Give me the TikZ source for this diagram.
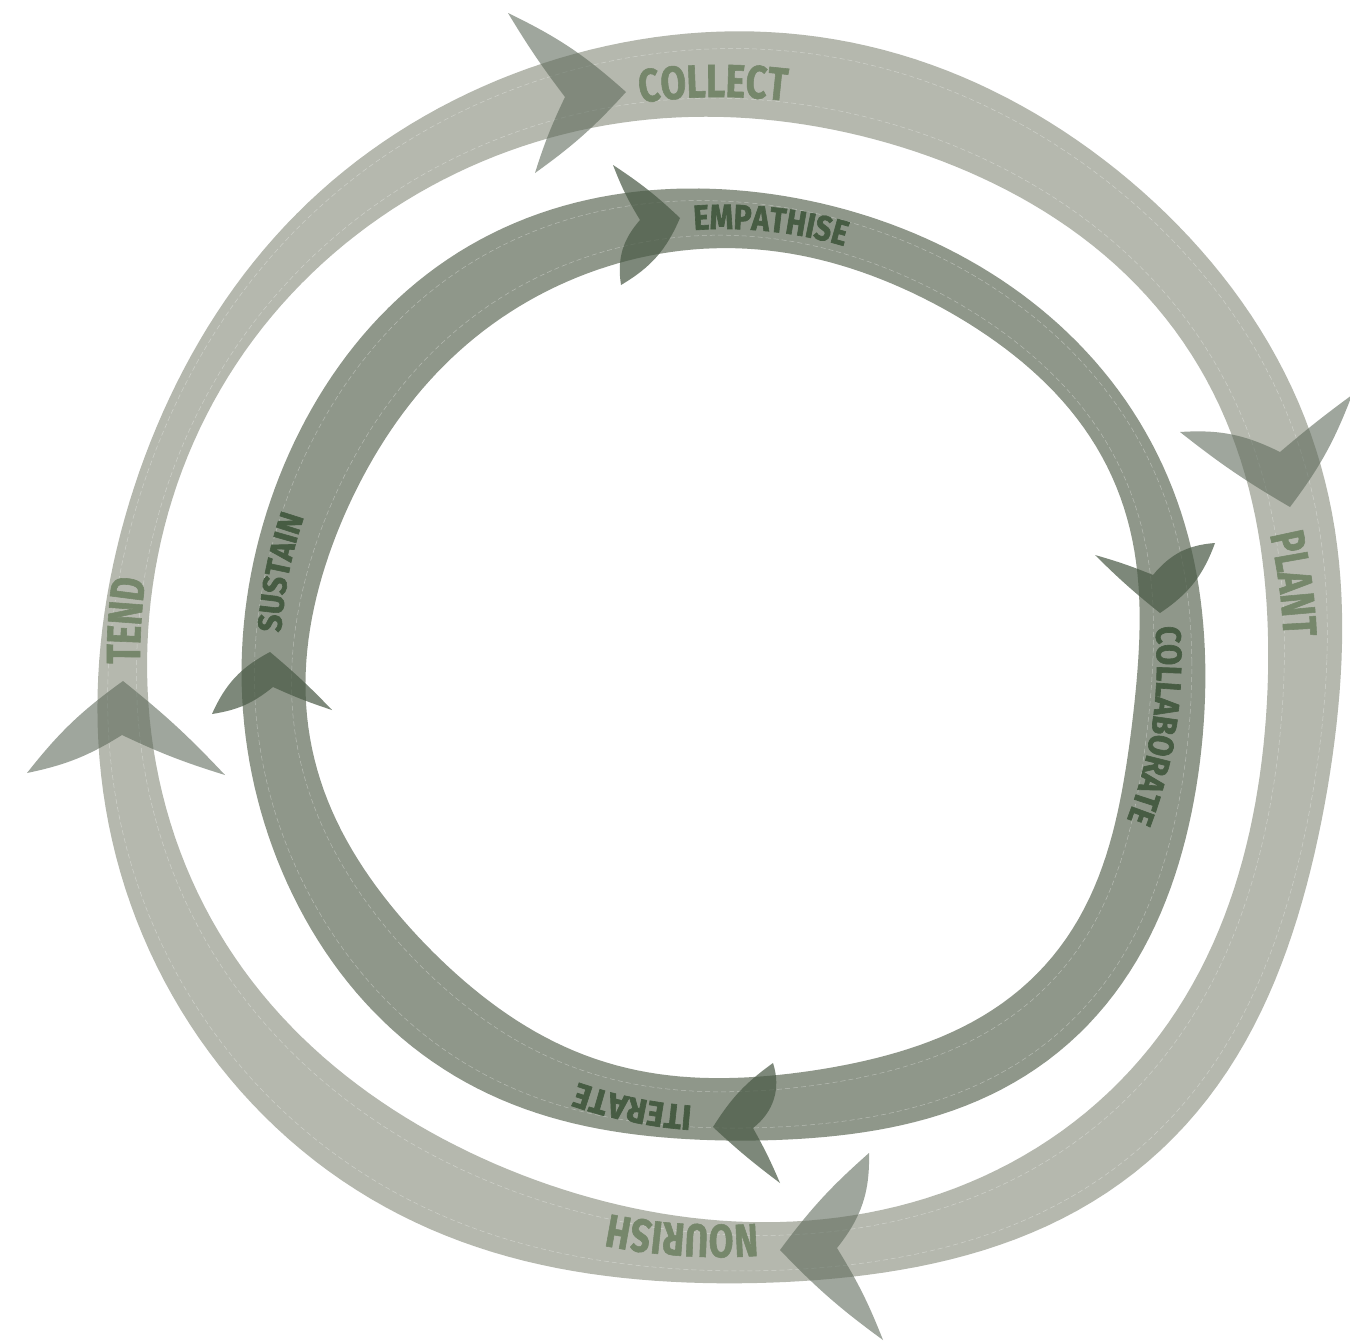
\documentclass[tikz,border=0pt]{standalone}
\usepackage{fontspec}
\setmainfont{Fira Sans}
\usetikzlibrary{decorations.text}
\definecolor{ringO}{HTML}{B5B8AE}
\definecolor{ringI}{HTML}{8F978A}
\definecolor{arrO}{HTML}{5F6B5C}
\definecolor{arrI}{HTML}{4B5B47}
\definecolor{txtO}{HTML}{76876B}
\definecolor{txtI}{HTML}{475C43}
\newcommand\ringdataO{0/620/545, 15/624/554, 30/640/572, 45/658/578, 60/655/580, 75/632/574, 90/624/561, 105/632/550, 120/636/555, 135/648/562, 150/642/568, 165/631/574, 180/621/573, 195/614/572, 210/607/566, 225/616/562, 240/619/556, 255/623/546, 270/627/544, 285/633/542, 300/631/552, 315/630/556, 330/634/562, 345/631/557}
\newcommand\ringdataI{0/485/416, 15/488/414, 30/503/433, 45/515/442, 60/510/436, 75/486/418, 90/482/418, 105/484/420, 120/493/413, 135/495/412, 150/493/416, 165/485/422, 180/481/416, 195/484/409, 210/480/408, 225/488/404, 240/488/409, 255/478/415, 270/473/410, 285/468/413, 300/468/415, 315/475/423, 330/482/428, 345/476/425}
% trigonometric fit of the radius r = ri + f (ro - ri) as a function of the angle
\newcommand\fitring[3]{%
  \gdef\fsum{}%
  \foreach \k in {0,...,6} {%
    \gdef\ca{0}\gdef\cb{0}%
    \foreach \a/\ro/\ri in #1 {%
      \pgfmathsetmacro\rr{\ri+#2*(\ro-\ri)}%
      \pgfmathsetmacro\na{\ca+\rr*cos(\k*\a)/12}%
      \pgfmathsetmacro\nb{\cb+\rr*sin(\k*\a)/12}%
      \xdef\ca{\na}\xdef\cb{\nb}%
    }%
    \ifnum\k=0\relax
      \pgfmathsetmacro\hh{\ca/2}%
      \xdef\fsum{\hh}%
    \else
      \xdef\fsum{\unexpanded\expandafter{\fsum}+(\ca)*cos(\k*\noexpand\x)+(\cb)*sin(\k*\noexpand\x)}%
    \fi
  }%
  \global\let#3\fsum}
\newcommand\lbl[3]{\fontsize{#1}{#1}\selectfont\bfseries\addfontfeature{FakeStretch=#2,FakeBold=#3}}
\begin{document}
\begin{tikzpicture}[x=1pt,y=-1pt,
  dashline/.style={draw=white, line width=0.5pt, draw opacity=0.35, dash pattern=on 5pt off 3pt},
  arrowO/.style={fill=arrO, fill opacity=0.6},
  arrowI/.style={fill=arrI, fill opacity=0.72},
  ringplot/.style={domain=0:360, samples=241}]
\useasboundingbox (0,0) rectangle (1350,1344);
\fill[white] (0,0) rectangle (1350,1344);
\fitring\ringdataO{1}\OOut
\fitring\ringdataO{0}\OIn
\fitring\ringdataO{0.22}\ODa
\fitring\ringdataO{0.8}\ODb
\fitring\ringdataI{1}\IOut
\fitring\ringdataI{0}\IIn
\fitring\ringdataI{0.22}\IDa
\fitring\ringdataI{0.8}\IDb
% outer ring
\begin{scope}[shift={(720,660)}]
  \fill[ringO, even odd rule] plot[ringplot] (\x:{\OOut}) -- cycle plot[ringplot] (\x:{\OIn}) -- cycle;
  \draw[dashline] plot[ringplot] (\x:{\ODa}) -- cycle;
  \draw[dashline] plot[ringplot] (\x:{\ODb}) -- cycle;
\end{scope}
% inner ring
\begin{scope}[shift={(724,661)}]
  \fill[ringI, even odd rule] plot[ringplot] (\x:{\IOut}) -- cycle plot[ringplot] (\x:{\IIn}) -- cycle;
  \draw[dashline] plot[ringplot] (\x:{\IDa}) -- cycle;
  \draw[dashline] plot[ringplot] (\x:{\IDb}) -- cycle;
\end{scope}
% outer arrowheads
\fill[arrowO] (626,92) to[bend right=8] (508,13) to[bend right=3] (565,97) to[bend right=4] (535,173) to[bend right=6] (626,92) -- cycle;
\fill[arrowO] (1290,507) to[bend right=8] (1352,395) to[bend right=2] (1280,452) to[bend right=15] (1180,432) to[bend right=4] (1290,507) -- cycle;
\fill[arrowO] (780,1250) to[bend right=5] (883,1340) to[bend right=5] (837,1248) to[bend right=20] (869,1153) to[bend right=6] (780,1250) -- cycle;
\fill[arrowO] (123,681) to[bend right=8] (27,773) to[bend right=10] (122,735) to[bend right=4] (225,775) to[bend right=4] (123,681) -- cycle;
% inner arrowheads
\fill[arrowI] (680,218) to[bend right=5] (613,165) to[bend right=5] (640,220) to[bend right=25] (621,285) to[bend right=18] (680,218) -- cycle;
\fill[arrowI] (1160,613) to[bend right=18] (1215,543) to[bend right=23] (1153,575) to[bend right=3] (1095,555) to[bend right=3] (1160,613) -- cycle;
\fill[arrowI] (713,1127) to[bend right=3] (780,1183) to[bend right=3] (753,1128) to[bend right=35] (773,1063) to[bend right=11] (713,1127) -- cycle;
\fill[arrowI] (270,652) to[bend right=19] (212,714) to[bend right=15] (273,687) to[bend right=3] (332,710) to[bend right=3] (270,652) -- cycle;
% outer labels
\begin{scope}[shift={(720,660)}]
  \path[decorate, decoration={text along path, text align=center, text color=txtO, text={|\lbl{46.4}{0.8}{1.2}|COLLECT}}] plot[domain=-110.7:-70.7, samples=41] (\x:563);
  \path[decorate, decoration={text along path, text align=center, text color=txtO, text={|\lbl{47.9}{0.74}{1.2}|PLANT}}] plot[domain=-27.6:12.4, samples=41] (\x:564);
  \path[decorate, decoration={text along path, text align=center, text color=txtO, text={|\lbl{46.4}{0.77}{1.2}|NOURISH}}] plot[domain=73.75:113.75, samples=41] (\x:565);
  \path[decorate, decoration={text along path, text align=center, text color=txtO, text={|\lbl{47.9}{0.74}{1.2}|TEND}}] plot[domain=-196.2:-156.2, samples=41] (\x:580);
\end{scope}
% inner labels
\begin{scope}[shift={(724,661)}]
  \path[decorate, decoration={text along path, text align=center, text color=txtI, text={|\lbl{35}{0.85}{1.8}|EMPATHISE}}] plot[domain=-103.9:-63.9, samples=41] (\x:432);
  \path[decorate, decoration={text along path, text align=center, text color=txtI, text={|\lbl{35}{0.87}{1.8}|COLLABORATE}}] plot[domain=-16.5:33.5, samples=51] (\x:433);
  \path[decorate, decoration={text along path, text align=center, text color=txtI, text={|\lbl{35}{0.92}{1.8}|ITERATE}}] plot[domain=81.6:121.6, samples=41] (\x:446);
  \path[decorate, decoration={text along path, text align=center, text color=txtI, text={|\lbl{33.5}{0.91}{1.8}|SUSTAIN}}] plot[domain=-188.7:-148.7, samples=41] (\x:444);
\end{scope}
\end{tikzpicture}
\end{document}
